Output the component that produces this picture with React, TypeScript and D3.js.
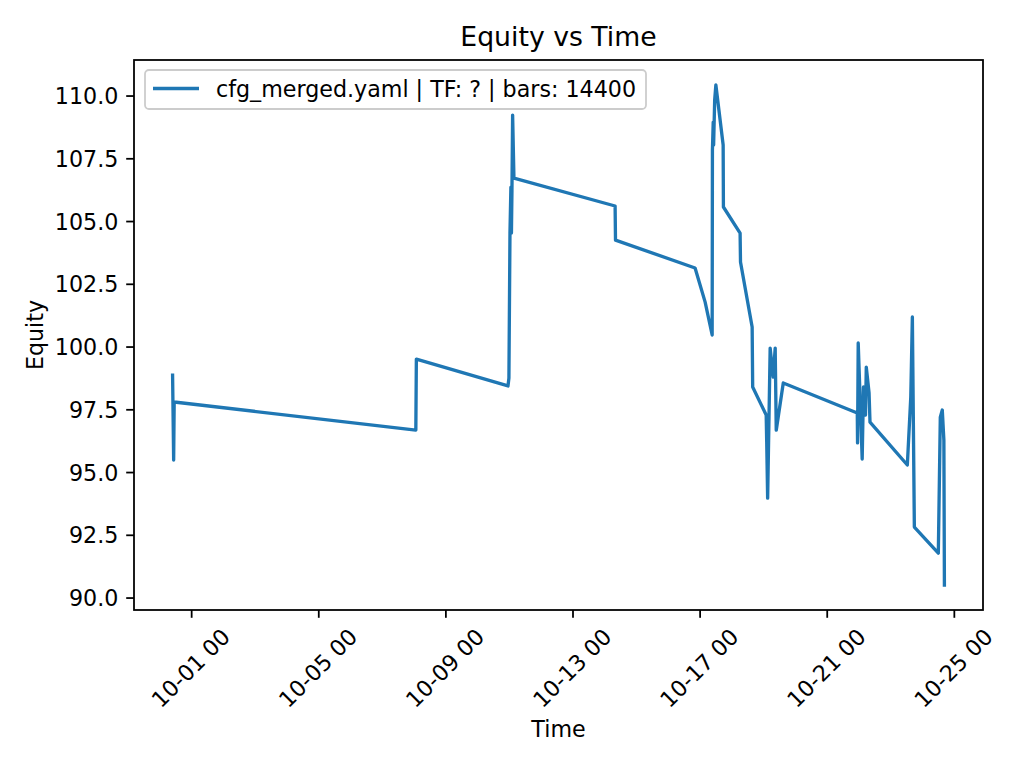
import React from "react";
import * as d3 from "d3";

const timestamps: string[] = [
  "2024-09-30 09:36", "2024-09-30 10:24", "2024-09-30 10:48",
  "2024-10-08 01:18", "2024-10-08 01:42",
  "2024-10-10 22:54", "2024-10-10 23:36",
  "2024-10-11 00:24", "2024-10-11 01:06", "2024-10-11 01:30", "2024-10-11 01:54",
  "2024-10-11 02:24", "2024-10-11 03:24",
  "2024-10-14 07:48", "2024-10-14 08:06",
  "2024-10-16 20:12", "2024-10-17 03:48", "2024-10-17 09:06",
  "2024-10-17 09:18", "2024-10-17 09:54", "2024-10-17 10:12", "2024-10-17 11:00", "2024-10-17 11:54",
  "2024-10-17 17:24", "2024-10-17 17:36",
  "2024-10-18 06:12", "2024-10-18 06:30",
  "2024-10-18 15:18", "2024-10-18 15:42",
  "2024-10-19 01:54", "2024-10-19 02:18", "2024-10-19 03:00", "2024-10-19 04:54",
  "2024-10-19 07:12", "2024-10-19 08:42", "2024-10-19 09:30", "2024-10-19 14:48",
  "2024-10-21 22:42", "2024-10-21 22:54", "2024-10-21 23:24",
  "2024-10-22 02:24", "2024-10-22 03:24", "2024-10-22 04:54", "2024-10-22 05:30",
  "2024-10-22 07:36", "2024-10-22 08:18",
  "2024-10-23 12:30", "2024-10-23 15:06", "2024-10-23 16:18", "2024-10-23 17:48",
  "2024-10-24 11:54", "2024-10-24 13:24", "2024-10-24 14:54", "2024-10-24 16:06", "2024-10-24 16:30",
];

const equity: number[] = [
  98.88, 95.5, 97.81,
  96.69, 99.52,
  98.45, 98.76,
  104.54, 106.37, 104.54, 106.25,
  109.24, 106.73,
  105.62, 104.26,
  103.15, 101.79, 100.48,
  107.85, 108.96, 108.05, 109.84, 110.44,
  108.05, 105.58,
  104.54, 103.39,
  100.8, 98.41,
  97.29, 96.22, 93.98, 99.96,
  98.8, 99.96, 96.69, 98.57,
  97.37, 96.18, 100.16,
  95.54, 98.41, 97.29, 99.2,
  98.17, 97.01,
  95.3, 98.01, 101.2, 92.83,
  91.79, 97.21, 97.49, 96.29, 90.52,
];

const xTickLabels: string[] = ["2024-10-01 00:00", "2024-10-05 00:00", "2024-10-09 00:00", "2024-10-13 00:00", "2024-10-17 00:00", "2024-10-21 00:00", "2024-10-25 00:00"];
const yTicks: number[] = [90.0, 92.5, 95.0, 97.5, 100.0, 102.5, 105.0, 107.5, 110.0];

const titleText = "Equity vs Time";
const xLabel = "Time";
const yLabel = "Equity";
const legendLabel = "cfg_merged.yaml | TF: ? | bars: 14400";

const parse = d3.timeParse("%Y-%m-%d %H:%M");
const fmt = d3.timeFormat("%m-%d %H");

export default function App() {
  const W = 1024, H = 768;
  const left = 134, right = 983, top = 60, bottom = 610;
  const data = timestamps.map((t, i) => ({ t: parse(t) as Date, v: equity[i] }));

  const tExt = d3.extent(data, (d) => +d.t) as [number, number];
  const tPad = (tExt[1] - tExt[0]) * 0.05;
  const vExt = d3.extent(data, (d) => d.v) as [number, number];
  const vPad = (vExt[1] - vExt[0]) * 0.05;

  const x = d3.scaleTime().domain([new Date(tExt[0] - tPad), new Date(tExt[1] + tPad)]).range([left, right]);
  const y = d3.scaleLinear().domain([vExt[0] - vPad, vExt[1] + vPad]).range([bottom, top]);

  const line = d3.line<{ t: Date; v: number }>().x((d) => x(d.t)).y((d) => y(d.v));

  const font = "DejaVu Sans, sans-serif";
  const tickFs = 22.2;
  const tickLen = 7.8;
  const sw = 1.78;

  return (
    <svg width={W} height={H} style={{ position: "absolute", left: 0, top: 0, background: "#fff" }} fontFamily={font}>
      <rect x={0} y={0} width={W} height={H} fill="#fff" />
      <path d={line(data) || ""} fill="none" stroke="#1f77b4" strokeWidth={3.33} strokeLinejoin="round" strokeLinecap="square" />
      <rect x={left} y={top} width={right - left} height={bottom - top} fill="none" stroke="#000" strokeWidth={sw} />
      {yTicks.map((v) => (
        <g key={"y" + v}>
          <line x1={left - tickLen} x2={left} y1={y(v)} y2={y(v)} stroke="#000" strokeWidth={sw} />
          <text x={left - tickLen - 7.8} y={y(v)} dy="0.36em" textAnchor="end" fontSize={tickFs} fill="#000">
            {v.toFixed(1)}
          </text>
        </g>
      ))}
      {xTickLabels.map((s) => {
        const d = parse(s) as Date;
        const px = x(d);
        return (
          <g key={"x" + s}>
            <line x1={px} x2={px} y1={bottom} y2={bottom + tickLen} stroke="#000" strokeWidth={sw} />
            <text
              x={0}
              y={0}
              dy="0.36em"
              textAnchor="middle"
              fontSize={tickFs}
              fill="#000"
              transform={`translate(${px - 1},${668}) rotate(-45)`}
            >
              {fmt(d)}
            </text>
          </g>
        );
      })}
      <text x={(left + right) / 2} y={46} textAnchor="middle" fontSize={26.7} fill="#000">
        {titleText}
      </text>
      <text x={(left + right) / 2} y={737} textAnchor="middle" fontSize={tickFs} fill="#000">
        {xLabel}
      </text>
      <text transform={`translate(43,${(top + bottom) / 2}) rotate(-90)`} textAnchor="middle" fontSize={tickFs} fill="#000">
        {yLabel}
      </text>
      <g>
        <rect x={145} y={70} width={501} height={39} rx={4} ry={4} fill="#fff" fillOpacity={0.8} stroke="#cccccc" strokeWidth={1.78} />
        <line x1={153} x2={199} y1={88.5} y2={88.5} stroke="#1f77b4" strokeWidth={3.33} />
        <text x={216} y={96.5} fontSize={tickFs} fill="#000">
          {legendLabel}
        </text>
      </g>
    </svg>
  );
}
